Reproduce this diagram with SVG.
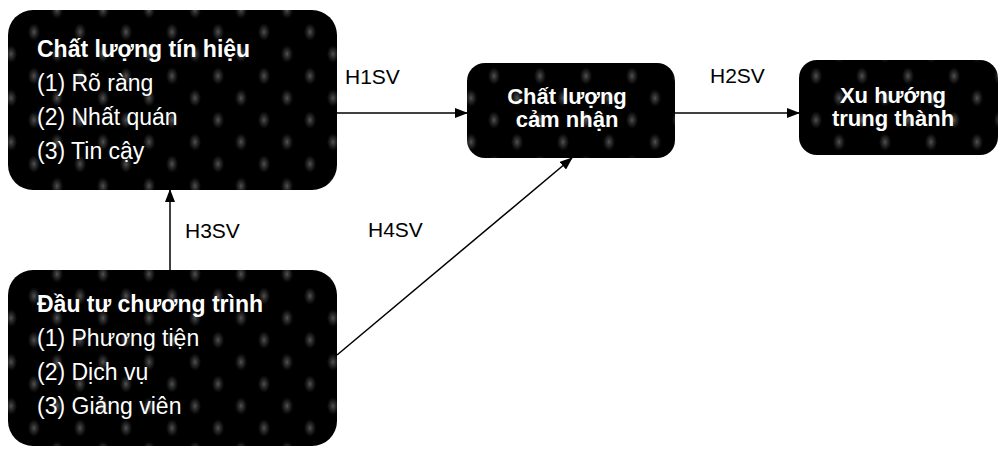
<svg xmlns="http://www.w3.org/2000/svg" width="1000" height="450" viewBox="0 0 1000 450">
  <defs>
    <radialGradient id="blob" cx="0.5" cy="0.5" r="0.5">
      <stop offset="0" stop-color="#777" stop-opacity="0.7"/>
      <stop offset="0.6" stop-color="#4a4a4a" stop-opacity="0.3"/>
      <stop offset="1" stop-color="#000" stop-opacity="0"/>
    </radialGradient>
    <pattern id="grain" width="46" height="44" patternUnits="userSpaceOnUse">
      <rect width="46" height="44" fill="#000"/>
      <ellipse cx="11" cy="10" rx="7" ry="10" fill="url(#blob)"/>
      <ellipse cx="34" cy="32" rx="7" ry="10" fill="url(#blob)"/>
    </pattern>
    <marker id="arr" markerWidth="13" markerHeight="10" refX="12" refY="5" orient="auto" markerUnits="userSpaceOnUse">
      <path d="M0,0 L13,5 L0,10 z" fill="#000"/>
    </marker>
  </defs>
  <style>
    .box { fill: url(#grain); }
    .t { font-family: "Liberation Sans", Arial, sans-serif; fill: #fff; font-size: 23px; }
    .b { font-weight: bold; }
    .c { text-anchor: middle; font-size: 22px; font-weight: bold; }
    .lbl { font-family: "Liberation Sans", Arial, sans-serif; fill: #000; font-size: 21px; }
    .ln { stroke: #000; stroke-width: 1.5; fill: none; marker-end: url(#arr); }
  </style>
  <rect width="1000" height="450" fill="#fff"/>

  <g id="connectors">
    <line class="ln" x1="337" y1="113" x2="467" y2="113"/>
    <line class="ln" x1="675" y1="113" x2="799" y2="113"/>
    <line class="ln" x1="170" y1="270" x2="170" y2="190"/>
    <line class="ln" x1="337" y1="355" x2="572" y2="158"/>
    <text class="lbl" x="345" y="84">H1SV</text>
    <text class="lbl" x="710" y="83">H2SV</text>
    <text class="lbl" x="185" y="238">H3SV</text>
    <text class="lbl" x="368" y="237">H4SV</text>
  </g>

  <g id="tin-hieu">
    <rect class="box" x="8" y="10" width="329" height="180" rx="25"/>
    <text class="t b" x="37" y="57">Chất lượng tín hiệu</text>
    <text class="t" x="37" y="91">(1) Rõ ràng</text>
    <text class="t" x="37" y="125">(2) Nhất quán</text>
    <text class="t" x="37" y="159">(3) Tin cậy</text>
  </g>

  <g id="dau-tu">
    <rect class="box" x="8" y="270" width="329" height="176" rx="25"/>
    <text class="t b" x="37" y="312">Đầu tư chương trình</text>
    <text class="t" x="37" y="346">(1) Phương tiện</text>
    <text class="t" x="37" y="380">(2) Dịch vụ</text>
    <text class="t" x="37" y="414">(3) Giảng viên</text>
  </g>

  <g id="cam-nhan">
    <rect class="box" x="467" y="63" width="208" height="95" rx="18"/>
    <text class="t c" x="567" y="104">Chất lượng</text>
    <text class="t c" x="567" y="127">cảm nhận</text>
  </g>

  <g id="trung-thanh">
    <rect class="box" x="799" y="60" width="199" height="95" rx="18"/>
    <text class="t c" x="893" y="103">Xu hướng</text>
    <text class="t c" x="893" y="126">trung thành</text>
  </g>
</svg>
